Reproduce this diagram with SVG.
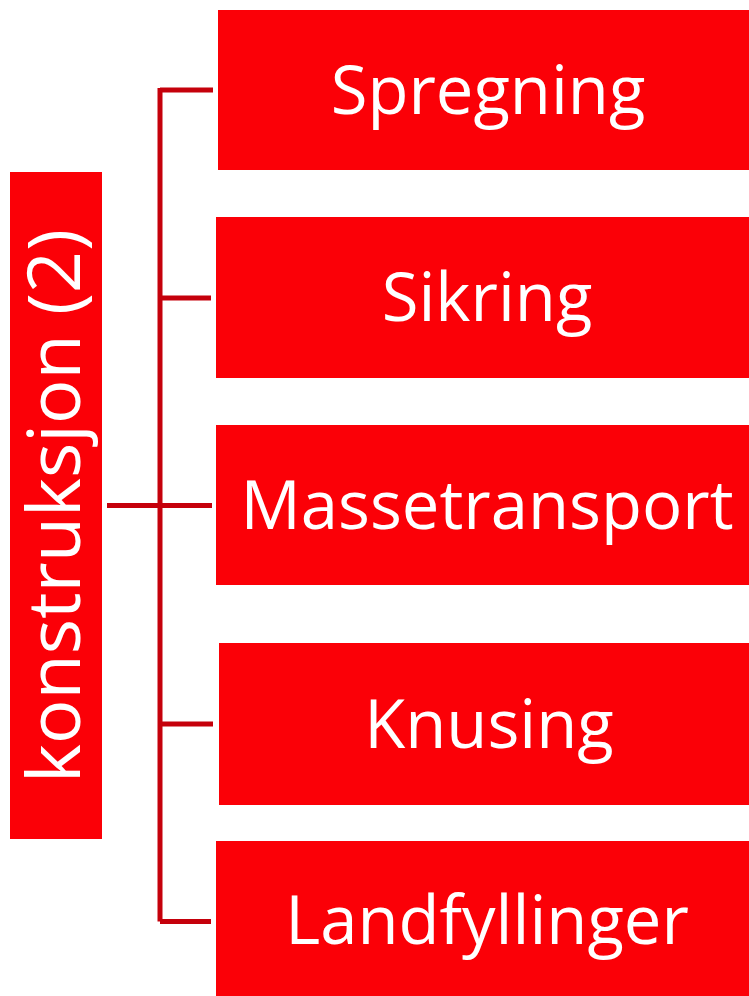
<svg xmlns="http://www.w3.org/2000/svg" width="749" height="996" viewBox="0 0 749 996">
<style>
.box{fill:#FB0007}
.lbl{fill:#ffffff;font-family:"Open Sans","Liberation Sans",sans-serif;font-size:67px;text-anchor:middle}
.conn{stroke:#C5000B;stroke-width:5;fill:none}
</style>
<rect width="749" height="996" fill="#ffffff"/>
<g id="connectors">
<path class="conn" d="M107,505.5 H212"/>
<path class="conn" d="M160,88 V921.5"/>
<path class="conn" d="M160,90 H213"/>
<path class="conn" d="M160,298 H211"/>
<path class="conn" d="M160,724 H213"/>
<path class="conn" d="M160,921.5 H211"/>
</g>
<g id="root">
<rect class="box" x="10" y="172" width="92" height="667"/>
<text class="lbl" style="font-size:74px" transform="translate(80,506) rotate(-90)">konstruksjon (2)</text>
</g>
<g id="n1">
<rect class="box" x="218" y="10" width="531" height="160"/>
<text class="lbl" x="488" y="114">Spregning</text>
</g>
<g id="n2">
<rect class="box" x="216" y="217" width="533" height="161"/>
<text class="lbl" x="487" y="321">Sikring</text>
</g>
<g id="n3">
<rect class="box" x="216" y="425" width="533" height="160"/>
<text class="lbl" x="487" y="529">Massetransport</text>
</g>
<g id="n4">
<rect class="box" x="219" y="643" width="530" height="162"/>
<text class="lbl" x="489" y="748">Knusing</text>
</g>
<g id="n5">
<rect class="box" x="216" y="841" width="533" height="155"/>
<text class="lbl" x="487" y="944">Landfyllinger</text>
</g>
</svg>
